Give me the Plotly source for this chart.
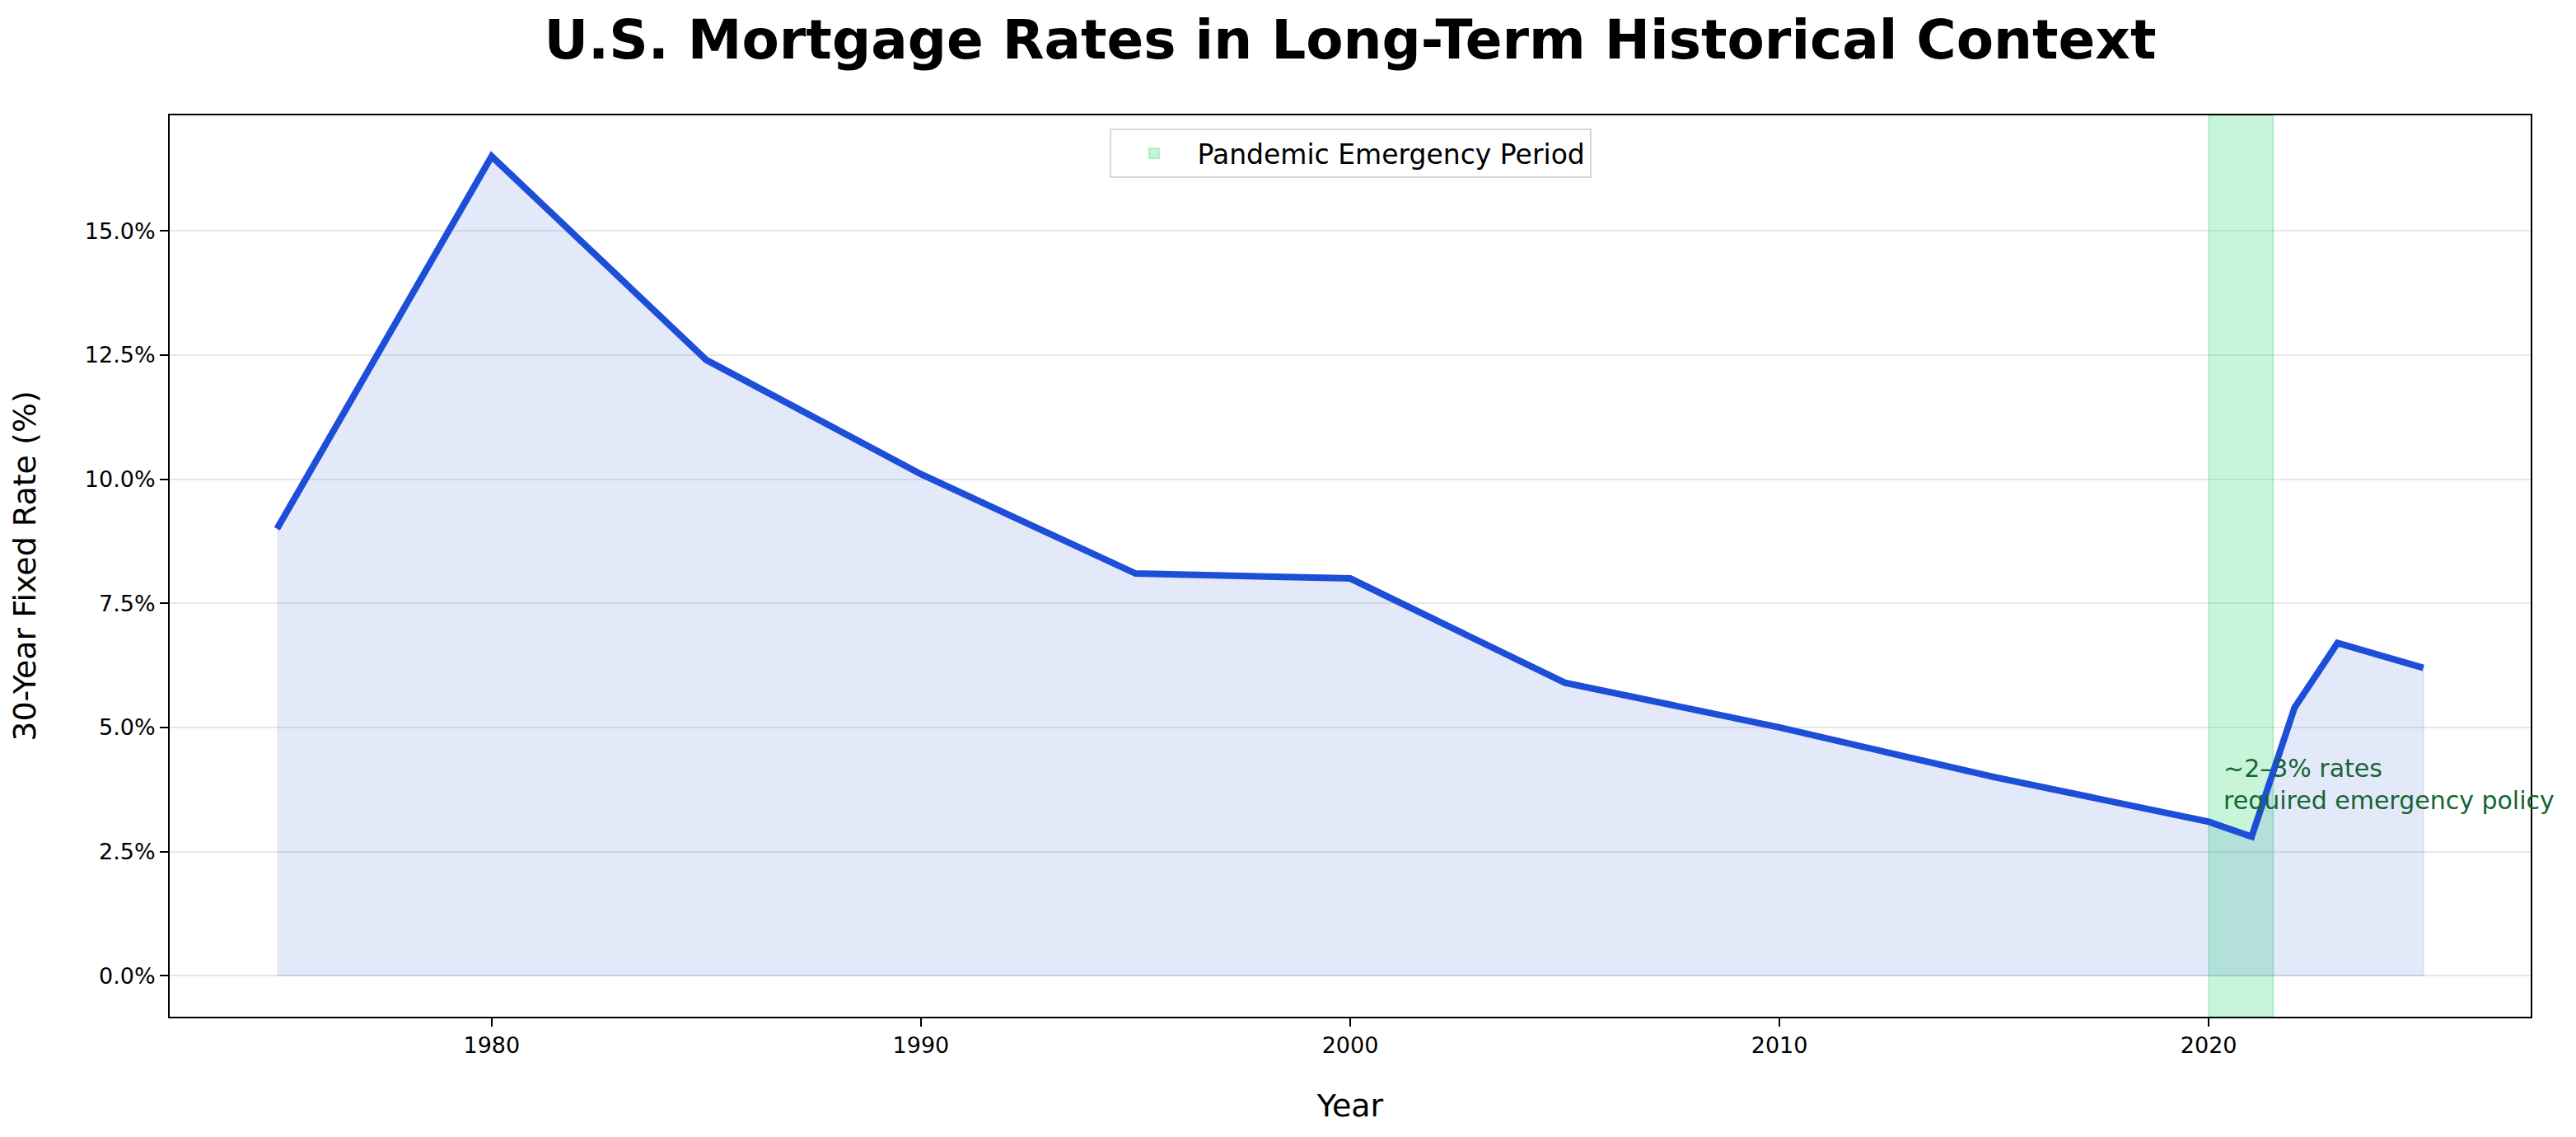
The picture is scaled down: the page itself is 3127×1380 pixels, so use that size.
import plotly.graph_objects as go

years = [1975, 1980, 1985, 1990, 1995, 2000, 2005, 2010, 2015, 2020, 2021, 2022, 2023, 2025]
rates = [9.0, 16.5, 12.4, 10.1, 8.1, 8.0, 5.9, 5.0, 4.0, 3.1, 2.8, 5.4, 6.7, 6.2]
pandemic_start = 2020
pandemic_end = 2021.5
y_ticks = [0, 2.5, 5, 7.5, 10, 12.5, 15]
x_ticks = [1980, 1990, 2000, 2010, 2020]

# matplotlib-like 5% margins
xr = max(years) - min(years)
yr = max(rates) - 0
x_range = [min(years) - 0.05 * xr, max(years) + 0.05 * xr]
y_range = [0 - 0.05 * yr, max(rates) + 0.05 * yr]

FONT = "DejaVu Sans"
BLUE = "#1d4ed8"
L, R, T, B = 198, 63, 132, 154

fig = go.Figure()

# pandemic span (bar spanning the full y range)
fig.add_trace(go.Bar(
    x=[(pandemic_start + pandemic_end) / 2],
    y=[y_range[1] - y_range[0]],
    base=[y_range[0]],
    width=[pandemic_end - pandemic_start],
    marker=dict(color="rgba(74,222,128,0.30)",
                line=dict(color="rgba(74,222,128,0.35)", width=2)),
    name="Pandemic Emergency Period",
    showlegend=True,
    hoverinfo="skip",
))

# area fill under line
fig.add_trace(go.Scatter(
    x=years + [years[-1], years[0]],
    y=rates + [0, 0],
    fill="toself",
    fillcolor="rgba(29,78,216,0.12)",
    line=dict(color="rgba(29,78,216,0.10)", width=2),
    mode="lines",
    hoverinfo="skip",
    showlegend=False,
))

# main line
fig.add_trace(go.Scatter(
    x=years, y=rates, mode="lines",
    line=dict(color=BLUE, width=8),
    showlegend=False,
))

fig.add_annotation(
    x=2020.3, y=3.2, xref="x", yref="y",
    text="~2–3% rates<br>required emergency policy",
    showarrow=False, xanchor="left", yanchor="bottom", align="left",
    font=dict(family=FONT, size=30, color="#166534"),
)

fig.update_layout(
    width=3127, height=1380,
    margin=dict(l=L, r=R, t=T, b=B),
    paper_bgcolor="white", plot_bgcolor="white",
    font=dict(family=FONT, size=27, color="black"),
    title=dict(
        text="<b>U.S. Mortgage Rates in Long-Term Historical Context</b>",
        font=dict(family=FONT, size=66, color="black"),
        x=(L + 3127 - R) / 2 / 3127, xanchor="center",
        y=1 - 40 / 1380, yanchor="middle",
    ),
    legend=dict(
        x=0.5, xanchor="center", y=0.985, yanchor="top",
        bgcolor="rgba(255,255,255,0.8)", bordercolor="#d6d6d6", borderwidth=2,
        font=dict(family=FONT, size=33, color="black"),
        itemwidth=95,
    ),
    xaxis=dict(
        range=x_range, tickvals=x_ticks, ticktext=[str(t) for t in x_ticks],
        showgrid=False, zeroline=False,
        showline=True, mirror=True, linecolor="black", linewidth=2,
        ticks="outside", ticklen=10, tickwidth=2, tickcolor="black",
        tickfont=dict(family=FONT, size=27),
        title=dict(text="Year", font=dict(family=FONT, size=38), standoff=45),
    ),
    yaxis=dict(
        range=y_range, tickvals=y_ticks, ticktext=[f"{t:.1f}%" for t in y_ticks],
        showgrid=True, gridcolor="#e7e7e7", gridwidth=2, zeroline=False,
        showline=True, mirror=True, linecolor="black", linewidth=2,
        ticks="outside", ticklen=10, tickwidth=2, tickcolor="black",
        tickfont=dict(family=FONT, size=27),
        title=dict(text="30-Year Fixed Rate (%)", font=dict(family=FONT, size=38), standoff=50),
    ),
)

fig.write_html("out.html")
